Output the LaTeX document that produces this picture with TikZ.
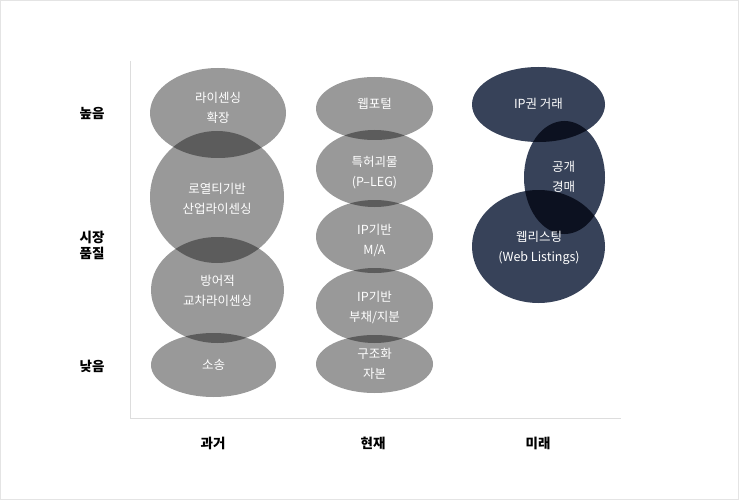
\documentclass[tikz,border=0pt]{standalone}
\usepackage{fontspec}
\newfontfamily\kr{Noto Sans CJK KR}
\definecolor{gfill}{HTML}{999999}
\definecolor{gover}{HTML}{5C5C5C}
\definecolor{nfill}{HTML}{374259}
\definecolor{nover}{HTML}{0C1120}
\definecolor{axisc}{HTML}{DDDDDD}
\definecolor{framec}{HTML}{E4E4E4}
\tikzset{
  lbl/.style={text=white, font=\kr\fontsize{12.5}{20}\selectfont, align=center, inner sep=0pt},
  axlbl/.style={text=black, font=\kr\bfseries\fontsize{13.5}{16}\selectfont, align=center, inner sep=0pt},
}
\def\EA{(218,113) ellipse [x radius=68pt, y radius=45pt]}
\def\EB{(217,197) ellipse [x radius=67pt, y radius=66pt]}
\def\EC{(217.5,290) ellipse [x radius=66.5pt, y radius=53pt]}
\def\ED{(213.5,365) ellipse [x radius=62.5pt, y radius=32pt]}
\def\WA{(374.5,108.5) ellipse [x radius=58.5pt, y radius=31.5pt]}
\def\WB{(374.5,168.5) ellipse [x radius=58.5pt, y radius=38.5pt]}
\def\WC{(374.5,236.5) ellipse [x radius=58.5pt, y radius=36.5pt]}
\def\WD{(374.5,305.5) ellipse [x radius=58.5pt, y radius=37.5pt]}
\def\WE{(374.5,364) ellipse [x radius=58.5pt, y radius=29pt]}
\def\NA{(538.5,104.5) ellipse [x radius=66.5pt, y radius=37.5pt]}
\def\NB{(564.5,177.5) ellipse [x radius=40.5pt, y radius=56.5pt]}
\def\NC{(538.5,246.5) ellipse [x radius=66.5pt, y radius=56.5pt]}
\begin{document}
\begin{tikzpicture}[x=1pt,y=-1pt]
\useasboundingbox (0,0) rectangle (739,500);
\fill[white] (0,0) rectangle (739,500);
\draw[framec, line width=1pt] (0.5,0.5) rectangle (738.5,499.5);
% axes
\coordinate (otop) at (130.5,61);
\coordinate (orig) at (130.5,418);
\coordinate (xend) at (621,418);
\draw[axisc, line width=1pt] (otop) -- (orig) -- (xend);
% column 1
\fill[gfill] \EA; \fill[gfill] \EB; \fill[gfill] \EC; \fill[gfill] \ED;
\begin{scope}\clip \EA; \fill[gover] \EB; \end{scope}
\begin{scope}\clip \EB; \fill[gover] \EC; \end{scope}
\begin{scope}\clip \EC; \fill[gover] \ED; \end{scope}
% column 2
\fill[gfill] \WA; \fill[gfill] \WB; \fill[gfill] \WC; \fill[gfill] \WD; \fill[gfill] \WE;
\begin{scope}\clip \WA; \fill[gover] \WB; \end{scope}
\begin{scope}\clip \WB; \fill[gover] \WC; \end{scope}
\begin{scope}\clip \WC; \fill[gover] \WD; \end{scope}
\begin{scope}\clip \WD; \fill[gover] \WE; \end{scope}
% column 3
\fill[nfill] \NA; \fill[nfill] \NB; \fill[nfill] \NC;
\begin{scope}\clip \NA; \fill[nover] \NB; \end{scope}
\begin{scope}\clip \NB; \fill[nover] \NC; \end{scope}
% labels in ellipses
\node[lbl] (a1) at (218,108) {라이센싱\\확장};
\node[lbl] (a2) at (217,199) {로열티기반\\산업라이센싱};
\node[lbl] (a3) at (217.5,290.5) {방어적\\교차라이센싱};
\node[lbl] (a4) at (213.5,365) {소송};
\node[lbl] (b1) at (374.5,104) {웹포털};
\node[lbl] (b2) at (374.5,173) {특허괴물\\(P–LEG)};
\node[lbl] (b3) at (374.5,240) {IP기반\\M/A};
\node[lbl] (b4) at (374.5,307) {IP기반\\부채/지분};
\node[lbl] (b5) at (374.5,364) {구조화\\자본};
\node[lbl] (c1) at (538.5,104) {IP권 거래};
\node[lbl] (c2) at (563.5,177) {공개\\경매};
\node[lbl] (c3) at (539,248) {웹리스팅\\(Web Listings)};
% axis labels
\node[axlbl] (hi) at (92,113) {높음};
\node[axlbl] (mq) at (92,245) {시장\\품질};
\node[axlbl] (lo) at (92,366) {낮음};
\node[axlbl] (past) at (213,443) {과거};
\node[axlbl] (now) at (373,443) {현재};
\node[axlbl] (fut) at (538,443) {미래};
\end{tikzpicture}
\end{document}
